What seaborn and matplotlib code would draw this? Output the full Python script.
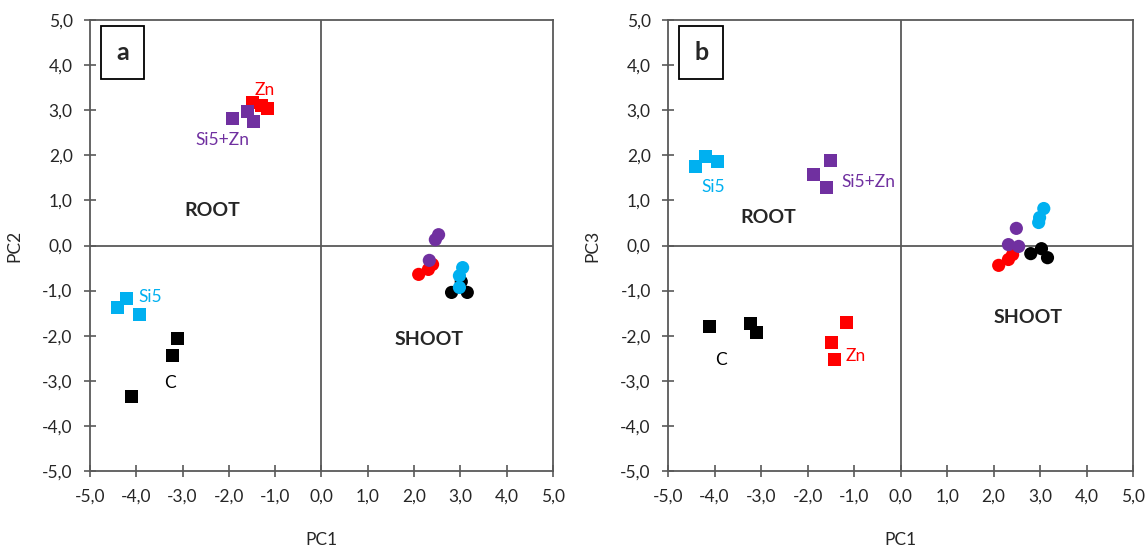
import numpy as np
import pandas as pd
import matplotlib.pyplot as plt
import seaborn as sns
from matplotlib.ticker import FuncFormatter

# ==========================================
# DATA
# ==========================================
groups = ["C", "Si5", "Zn", "Si5+Zn"]
colors = {"C": "#000000", "Si5": "#00B0F0", "Zn": "#FF0000", "Si5+Zn": "#7030A0"}

# panel a : PC1 vs PC2
a_root_pc1 = {"C": [-3.11, -3.22, -4.10], "Si5": [-4.41, -4.21, -3.93],
              "Zn": [-1.49, -1.30, -1.17], "Si5+Zn": [-1.92, -1.60, -1.47]}
a_root_pc2 = {"C": [-2.06, -2.44, -3.35], "Si5": [-1.37, -1.18, -1.53],
              "Zn": [3.17, 3.10, 3.04], "Si5+Zn": [2.82, 2.97, 2.75]}
a_shoot_pc1 = {"C": [2.81, 3.02, 3.15], "Si5": [3.05, 2.98, 2.98],
               "Zn": [2.10, 2.31, 2.40], "Si5+Zn": [2.46, 2.53, 2.33]}
a_shoot_pc2 = {"C": [-1.04, -0.80, -1.04], "Si5": [-0.49, -0.67, -0.93],
               "Zn": [-0.64, -0.53, -0.42], "Si5+Zn": [0.13, 0.24, -0.33]}

# panel b : PC1 vs PC3
b_root_pc1 = {"C": [-4.11, -3.23, -3.10], "Si5": [-4.41, -4.19, -3.94],
              "Zn": [-1.16, -1.48, -1.42], "Si5+Zn": [-1.51, -1.87, -1.59]}
b_root_pc3 = {"C": [-1.80, -1.73, -1.93], "Si5": [1.75, 1.97, 1.86],
              "Zn": [-1.71, -2.15, -2.53], "Si5+Zn": [1.88, 1.57, 1.29]}
b_shoot_pc1 = {"C": [2.80, 3.03, 3.16], "Si5": [3.08, 2.99, 2.97],
               "Zn": [2.11, 2.32, 2.41], "Si5+Zn": [2.49, 2.32, 2.54]}
b_shoot_pc3 = {"C": [-0.18, -0.07, -0.27], "Si5": [0.82, 0.62, 0.51],
               "Zn": [-0.44, -0.31, -0.20], "Si5+Zn": [0.38, 0.02, -0.02]}

# group labels: (text, x, y)
a_labels = [("Zn", -1.23, 3.45), ("Si5+Zn", -2.15, 2.35), ("Si5", -3.7, -1.15), ("C", -3.28, -3.04)]
b_labels = [("Si5", -4.02, 1.29), ("Si5+Zn", -0.69, 1.40), ("C", -3.87, -2.53), ("Zn", -0.97, -2.46)]
a_tissue = [("ROOT", -2.35, 0.78), ("SHOOT", 2.33, -2.08)]
b_tissue = [("ROOT", -2.84, 0.62), ("SHOOT", 2.75, -1.60)]


def build_df(root_x, root_y, shoot_x, shoot_y):
    rows = []
    for g in groups:
        for x, y in zip(root_x[g], root_y[g]):
            rows.append({"x": x, "y": y, "group": g, "tissue": "Root"})
        for x, y in zip(shoot_x[g], shoot_y[g]):
            rows.append({"x": x, "y": y, "group": g, "tissue": "Shoot"})
    return pd.DataFrame(rows)


df_a = build_df(a_root_pc1, a_root_pc2, a_shoot_pc1, a_shoot_pc2)
df_b = build_df(b_root_pc1, b_root_pc3, b_shoot_pc1, b_shoot_pc3)

# ==========================================
# PLOTTING
# ==========================================
sns.set_style("white")
plt.rcParams['font.family'] = ['Lato', 'DejaVu Sans']

fig = plt.figure(figsize=(11.46, 5.49), dpi=100)
ax_a = fig.add_axes([0.0785, 0.142, 0.404, 0.8216])
ax_b = fig.add_axes([0.583, 0.142, 0.4057, 0.8216])

comma = FuncFormatter(lambda v, p: f"{v:.1f}".replace(".", ","))
gray = "#595959"

for ax, df, labels, tissue, ylab, tag in [
        (ax_a, df_a, a_labels, a_tissue, "PC2", "a"),
        (ax_b, df_b, b_labels, b_tissue, "PC3", "b")]:
    ax.axhline(0, color=gray, lw=1.3, zorder=1)
    ax.axvline(0, color=gray, lw=1.3, zorder=1)
    sns.scatterplot(data=df, x="x", y="y", hue="group", style="tissue",
                    palette=colors, markers={"Root": "s", "Shoot": "o"},
                    s=90, linewidth=0, legend=False, ax=ax, zorder=3)
    ax.set_xlim(-5, 5)
    ax.set_ylim(-5, 5)
    ax.set_xticks(np.arange(-5, 5.1, 1))
    ax.set_yticks(np.arange(-5, 5.1, 1))
    ax.xaxis.set_major_formatter(comma)
    ax.yaxis.set_major_formatter(comma)
    ax.tick_params(axis="both", direction="inout", length=9, width=1.2,
                   color=gray, labelsize=12.5, pad=8, left=True, bottom=True)
    for sp in ax.spines.values():
        sp.set_color(gray)
        sp.set_linewidth(1.3)
    ax.set_xlabel("PC1", fontsize=12.5, labelpad=20)
    ax.set_ylabel(ylab, fontsize=12.5, labelpad=14)

    for txt, x, y in labels:
        ax.text(x, y, txt, color=colors[txt], fontsize=12.5, ha="center", va="center")
    for txt, x, y in tissue:
        ax.text(x, y, txt, fontsize=14, fontweight="bold", ha="center", va="center")
    ax.text(0.071, 0.929, tag, transform=ax.transAxes, fontsize=18, fontweight="bold",
            ha="center", va="center",
            bbox=dict(boxstyle="square,pad=0.6", fc="white", ec="black", lw=1.3))

fig.savefig("out.png", dpi=100)
